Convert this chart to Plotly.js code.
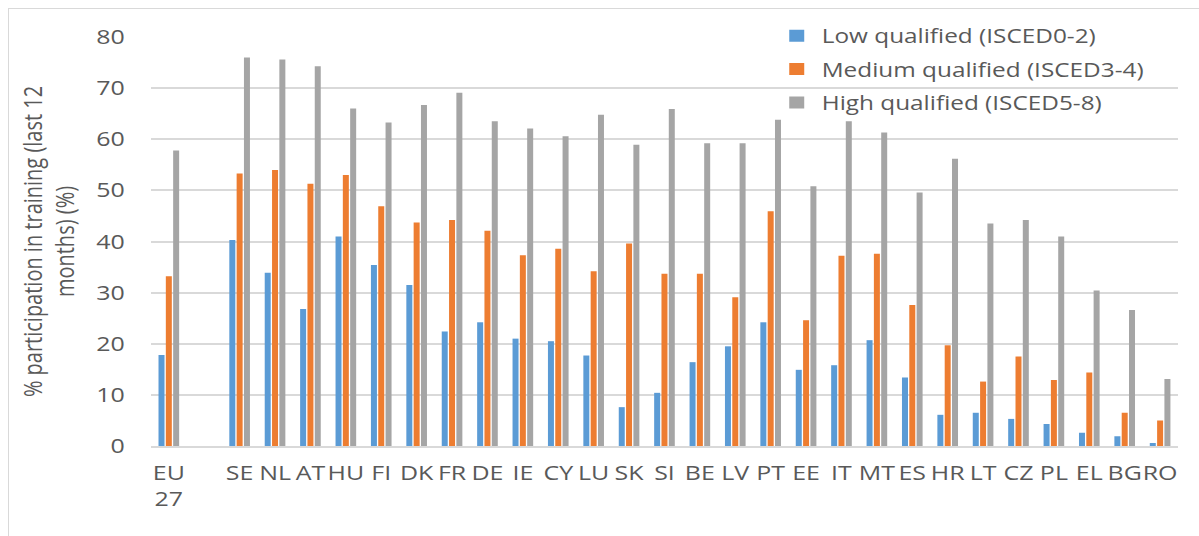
<!DOCTYPE html>
<html>
<head>
<meta charset="utf-8">
<script src="https://cdn.plot.ly/plotly-3.0.1.min.js"></script>
<style>
  html, body { margin: 0; padding: 0; background: #ffffff; }
  #wrap { position: relative; width: 1199px; height: 536px; overflow: hidden; }
  #frame { position: absolute; left: 8px; top: 8px; width: 1300px; height: 700px;
           border-left: 1.5px solid #d9d9d9; border-top: 1.5px solid #d9d9d9; }
  #chart { position: absolute; left: 0; top: 0; width: 960px; height: 536px;
           transform: scaleX(1.249); transform-origin: 0 0; }
</style>
</head>
<body>
<div id="wrap">
  <div id="frame"></div>
  <div id="chart"></div>
</div>
<script>
const categories = ["EU<br>27", " ", "SE", "NL", "AT", "HU", "FI", "DK", "FR", "DE", "IE", "CY", "LU", "SK", "SI",
  "BE", "LV", "PT", "EE", "IT", "MT", "ES", "HR", "LT", "CZ", "PL", "EL", "BG", "RO"];

const lowQualified = [17.8, null, 40.3, 33.9, 26.8, 41.0, 35.4, 31.5, 22.4, 24.2, 21.0, 20.5, 17.7, 7.6, 10.4,
  16.4, 19.5, 24.2, 14.9, 15.8, 20.7, 13.4, 6.1, 6.5, 5.3, 4.3, 2.6, 1.9, 0.6];

const mediumQualified = [33.2, null, 53.3, 54.0, 51.3, 53.0, 46.9, 43.7, 44.2, 42.1, 37.3, 38.6, 34.2, 39.6, 33.7,
  33.7, 29.1, 45.9, 24.6, 37.2, 37.6, 27.6, 19.7, 12.6, 17.5, 12.9, 14.4, 6.5, 5.0];

const highQualified = [57.8, null, 76.0, 75.6, 74.3, 66.0, 63.3, 66.7, 69.1, 63.5, 62.1, 60.6, 64.8, 58.9, 65.9,
  59.2, 59.2, 63.8, 50.8, 63.5, 61.3, 49.6, 56.2, 43.5, 44.2, 41.0, 30.4, 26.6, 13.1];

const seriesNames = ["Low qualified (ISCED0-2)", "Medium qualified (ISCED3-4)", "High qualified (ISCED5-8)"];
const seriesColors = ["#5b9bd5", "#ed7d31", "#a5a5a5"];
const yTickVals = [0, 10, 20, 30, 40, 50, 60, 70, 80];

const seriesValues = [lowQualified, mediumQualified, highQualified];
const traces = seriesValues.map((vals, i) => ({
  type: "bar",
  name: seriesNames[i],
  legendgroup: "g" + i,
  x: categories,
  y: vals,
  marker: { color: seriesColors[i], line: { width: 0 } },
  hoverinfo: "x+y+name"
}));

const fontFamily = "'Open Sans', 'Noto Sans', sans-serif";
const textColor = "#595959";

const layout = {
  width: 960,
  height: 536,
  margin: { l: 121, r: 17, t: 36.5, b: 90 },
  paper_bgcolor: "rgba(0,0,0,0)",
  plot_bgcolor: "rgba(0,0,0,0)",
  font: { family: fontFamily, color: textColor, size: 20 },
  barmode: "group",
  bargap: 0.38,
  bargroupgap: 0.18,
  showlegend: true,
  legend: {
    x: 0.6045, xanchor: "left",
    y: 1.05, yanchor: "top",
    bgcolor: "rgba(0,0,0,0)",
    font: { family: fontFamily, size: 19.5, color: textColor },
    itemwidth: 30,
    traceorder: "grouped",
    tracegroupgap: 5
  },
  xaxis: {
    type: "category",
    categoryorder: "array",
    categoryarray: categories,
    showgrid: false,
    showline: true,
    linecolor: "#d9d9d9",
    linewidth: 1.5,
    ticks: "outside",
    ticklen: 8,
    tickcolor: "rgba(0,0,0,0)",
    tickfont: { family: fontFamily, size: 20, color: textColor },
    tickangle: 0,
    zeroline: false,
    fixedrange: true
  },
  yaxis: {
    range: [0, 80],
    tickvals: yTickVals,
    showgrid: true,
    gridcolor: "#d9d9d9",
    gridwidth: 1.5,
    zeroline: false,
    showline: false,
    ticks: "outside",
    ticklen: 16,
    tickcolor: "rgba(0,0,0,0)",
    tickfont: { family: fontFamily, size: 20, color: textColor },
    title: {
      text: "% participation in training (last 12<br>months) (%)",
      font: { family: fontFamily, size: 20, color: textColor },
      standoff: 11
    },
    fixedrange: true
  }
};

Plotly.newPlot("chart", traces, layout, { displayModeBar: false, responsive: false });
</script>
</body>
</html>
